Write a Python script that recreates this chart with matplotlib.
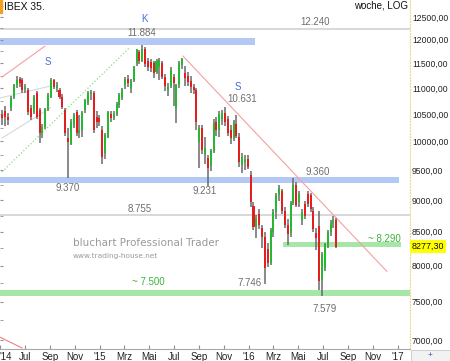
import numpy as np
import pandas as pd
import matplotlib
matplotlib.use('Agg')
import matplotlib.pyplot as plt
import matplotlib.dates as mdates
from matplotlib.ticker import FixedLocator, FuncFormatter

plt.rcParams['font.family'] = ['Liberation Sans', 'DejaVu Sans']

# IBEX 35 weekly candles, first week 05.05.2014
first_week = '2014-05-07'
opens = [10480, 10560, 10450, 10620, 10830, 11060, 11180, 11160, 10980, 10970,
         10620, 10540, 10900, 10580, 10150, 10260, 10600, 10830, 11160, 11000,
         10970, 10830, 10580, 10060, 9960, 10300, 10540, 10150, 10210, 10580,
         10710, 10880, 10900, 10450, 10420, 10200, 9800, 10080, 10500, 10420,
         10500, 10680, 10800, 11060, 11180, 11000, 11160, 11500, 11740, 11560,
         11800, 11550, 11520, 11500, 11320, 11420, 11500, 11230, 10960, 11040,
         11230, 10620, 11060, 11460, 11300, 11240, 11150, 11020, 10960, 9980,
         10250, 9780, 9700, 9560, 9830, 10350, 10200, 10400, 10520, 10400,
         10200, 10050, 10320, 10080, 9590, 9640, 9690, 9420, 8900, 8580,
         8780, 8560, 8420, 8240, 8030, 8500, 8800, 9080, 9150, 8820,
         8610, 8480, 8950, 9240, 8960, 8680, 8930, 9100, 9080, 8820,
         8480, 8590, 7790, 7960, 8300, 8500, 8640, 8680]
highs = [10580, 10660, 10520, 10850, 11080, 11250, 11220, 11200, 11080, 11000,
         10680, 10860, 10940, 10620, 10320, 10620, 10900, 11200, 11190, 11120,
         11010, 10880, 10620, 10250, 10400, 10520, 10580, 10480, 10560, 10790,
         10940, 10960, 10940, 10560, 10480, 10280, 10150, 10560, 10560, 10560,
         10740, 10900, 11000, 11220, 11260, 11180, 11450, 11800, 11790, 11884,
         11840, 11620, 11600, 11540, 11600, 11620, 11560, 11280, 11100, 11420,
         11280, 11080, 11560, 11620, 11450, 11330, 11250, 11080, 11000, 10300,
         10300, 10080, 9760, 9870, 10400, 10450, 10560, 10570, 10631, 10460,
         10300, 10380, 10480, 10150, 9800, 9760, 9750, 9480, 8960, 8760,
         8850, 8600, 8500, 8330, 8560, 8850, 9120, 9250, 9180, 8880,
         8700, 8980, 9360, 9300, 9150, 8860, 8990, 9150, 9120, 8880,
         8560, 8830, 8200, 8330, 8520, 8680, 8740, 8720]
lows = [10300, 10280, 10300, 10560, 10780, 11000, 11020, 10900, 10900, 10480,
        10380, 10500, 10400, 9970, 10050, 10220, 10560, 10800, 10980, 10920,
        10780, 10600, 10100, 9370, 9930, 10250, 10100, 10060, 10080, 10520,
        10680, 10760, 10150, 10250, 10280, 9600, 9690, 10050, 10360, 10380,
        10460, 10620, 10760, 10980, 11020, 10900, 11120, 11450, 11480, 11520,
        11420, 11350, 11330, 11200, 11280, 11160, 11180, 10950, 10850, 11000,
        10650, 10340, 11000, 11380, 11050, 11050, 10900, 10880, 10200, 9540,
        9780, 9600, 9231, 9480, 9800, 10100, 10080, 10300, 10280, 10100,
        9960, 10000, 10050, 9550, 9450, 9500, 9520, 8880, 8520, 8410,
        8540, 8250, 7746, 7980, 8010, 8420, 8700, 8980, 8780, 8560,
        8300, 8420, 8920, 8880, 8880, 8600, 8700, 8880, 8800, 8500,
        8220, 7650, 7579, 7920, 8260, 8440, 8560, 8250]
closes = [10420, 10440, 10380, 10810, 11060, 11160, 11100, 10970, 11030, 10540,
          10450, 10830, 10450, 10150, 10260, 10600, 10860, 11160, 11030, 11070,
          10830, 10640, 10150, 9980, 10350, 10480, 10150, 10210, 10520, 10770,
          10900, 10920, 10200, 10350, 10350, 9720, 10110, 10540, 10420, 10500,
          10700, 10860, 10960, 11180, 11100, 11140, 11420, 11780, 11540, 11800,
          11480, 11420, 11400, 11300, 11550, 11580, 11230, 11050, 11020, 11360,
          11110, 11060, 11500, 11590, 11200, 11120, 11020, 10960, 10360, 10250,
          9850, 9880, 9540, 9830, 10340, 10200, 10500, 10520, 10350, 10150,
          10050, 10340, 10100, 9630, 9720, 9690, 9544, 8960, 8580, 8720,
          8600, 8420, 7960, 8030, 8530, 8800, 9080, 9200, 8820, 8610,
          8460, 8950, 9240, 8920, 9100, 8800, 8740, 8930, 8850, 8540,
          8400, 7787, 8170, 8300, 8500, 8640, 8680, 8277.30]

# support / resistance zones (lower, upper)
zone_k = (11884, 12030)
zone_9360 = (9280, 9385)
zone_8290 = (8265, 8350)
zone_7500 = (7570, 7660)
line_12240 = 12240
line_8755 = 8755
last_price = 8277.30

month_ticks = ['2014-05-01', '2014-07-01', '2014-09-01', '2014-11-01', '2015-01-01',
               '2015-03-01', '2015-05-01', '2015-07-01', '2015-09-01', '2015-11-01',
               '2016-01-01', '2016-03-01', '2016-05-01', '2016-07-01', '2016-09-01',
               '2016-11-01', '2017-01-01']
month_labels = ["'14", 'Jul', 'Sep', 'Nov', "'15", 'Mrz', 'Mai', 'Jul', 'Sep', 'Nov',
                "'16", 'Mrz', 'Mai', 'Jul', 'Sep', 'Nov', "'17"]

o = np.array(opens); h = np.array(highs); l = np.array(lows); c = np.array(closes)
dates = pd.date_range(first_week, periods=len(c), freq='7D')
x = mdates.date2num(dates)

def d(s):
    return mdates.date2num(pd.Timestamp(s))

x0, x1 = d('2014-05-01'), d('2017-01-31')

fig = plt.figure(figsize=(4.5, 3.61), dpi=100)
ax = fig.add_axes([0, 12/361, 410/450, 349/361])
ax.set_yscale('log')
ax.set_xlim(x0, x1)
ax.set_ylim(6887, 12887)

# zones and lines
def zone(z, a, b, col):
    ax.fill_between([d(a), d(b)], z[0], z[1], color=col, lw=0, zorder=1)

zone(zone_k, '2014-05-01', '2016-01-17', '#b4c8f4')
zone(zone_9360, '2014-05-01', '2017-01-03', '#b4c8f4')
zone(zone_8290, '2016-03-25', '2017-01-10', '#a6e6a6')
zone(zone_7500, '2014-05-01', '2017-01-31', '#a6e6a6')
ax.hlines([line_12240, line_8755], x0, x1, color='#d2d2d2', lw=1.2, zorder=1)

# trend lines
ax.plot([d('2014-05-06'), d('2014-08-19')], [11223, 11862], color='#f4a0a0', lw=0.8, zorder=2)
ax.plot([d('2014-05-01'), d('2014-09-02')], [10808, 11043], color='#d8d8d8', lw=0.8, zorder=2)
ax.plot([d('2014-05-06'), d('2014-09-02')], [10059, 10618], color='#d8d8d8', lw=0.8, zorder=2)
ax.plot([d('2014-05-06'), d('2015-03-16')], [9466, 11840], color='#86dc86', lw=0.9, ls=':', zorder=2)
ax.plot([d('2015-07-24'), d('2016-12-05')], [11653, 7918], color='#f4a0a0', lw=0.8, zorder=2)
ax.plot([d('2014-05-01'), d('2014-06-24')], [7034, 6900], color='#f08080', lw=0.8, zorder=2)

# candles
up = c >= o
ax.vlines(x, l, h, color='#6a6a6a', lw=1.1, zorder=3)
body_lo = np.minimum(o, c)
body_h = np.maximum(np.abs(c - o), 18)
ax.bar(x, body_h, bottom=body_lo, width=5.0,
       color=np.where(up, '#26b832', '#e41e1e'), lw=0, zorder=4)

# labels
gray = '#6e6e6e'
fs = 7
ax.text(d('2015-04-21'), 12455, 'K', color='#4a6ed8', fontsize=fs, ha='center', va='center')
ax.text(d('2015-04-14'), 12146, '11.884', color=gray, fontsize=fs, ha='center', va='center')
ax.text(d('2016-06-11'), 12388, '12.240', color=gray, fontsize=fs, ha='center', va='center')
ax.text(d('2014-08-27'), 11530, 'S', color='#4a6ed8', fontsize=fs, ha='center', va='center')
ax.text(d('2015-12-05'), 11026, 'S', color='#4a6ed8', fontsize=fs, ha='center', va='center')
ax.text(d('2015-12-15'), 10790, '10.631', color=gray, fontsize=fs, ha='center', va='center')
ax.text(d('2016-06-18'), 9466, '9.360', color=gray, fontsize=fs, ha='center', va='center')
ax.text(d('2014-10-15'), 9200, '9.370', color=gray, fontsize=fs, ha='center', va='center')
ax.text(d('2015-09-15'), 9151, '9.231', color=gray, fontsize=fs, ha='center', va='center')
ax.text(d('2015-04-09'), 8860, '8.755', color=gray, fontsize=fs, ha='center', va='center')
ax.text(d('2016-01-04'), 7750, '7.746', color=gray, fontsize=fs, ha='center', va='center')
ax.text(d('2016-07-06'), 7398, '7.579', color=gray, fontsize=fs, ha='center', va='center')
ax.text(d('2016-11-30'), 8391, '~ 8.290', color='#3cb43c', fontsize=fs, ha='center', va='center')
ax.text(d('2015-04-29'), 7765, '~ 7.500', color='#3cb43c', fontsize=fs, ha='center', va='center')
ax.text(d('2014-10-27'), 8330, 'bluchart Professional Trader', color='#9a9a9a',
        fontsize=7.5, family='DejaVu Sans', ha='left', va='center')
ax.text(d('2014-10-27'), 8140, 'www.trading-house.net', color='#9a9a9a',
        fontsize=5.3, family='DejaVu Sans', ha='left', va='center')

# last price box
ax.annotate(f'{last_price:.2f}'.replace('.', ','), xy=(1.0, last_price),
            xycoords=('axes fraction', 'data'), xytext=(1.2, 0), textcoords='offset points',
            fontsize=6.4, ha='left', va='center', color='#111111',
            bbox=dict(boxstyle='square,pad=0.2', fc='#ffff00', ec='none'), annotation_clip=False)

# axes styling
for s in ['top', 'left']:
    ax.spines[s].set_visible(False)
ax.spines['bottom'].set_color('#a8a8a8')
ax.spines['right'].set_color('#f0d890')
ax.spines['right'].set_linestyle(':')

ax.yaxis.set_major_locator(FixedLocator(list(range(7000, 12501, 500))))
ax.yaxis.set_minor_locator(FixedLocator(list(range(7250, 12800, 500))))
ax.yaxis.set_major_formatter(FuncFormatter(lambda v, p: f'{v:.2f}'.replace('.', ',')))
ax.yaxis.set_minor_formatter(FuncFormatter(lambda v, p: ''))
ax.tick_params(axis='y', which='both', left=True, right=False, labelleft=False,
               labelright=True, direction='in', length=2, color='#909090',
               labelsize=6.2, pad=1.5, labelcolor='#222222')

ax.set_xticks([d(t) for t in month_ticks])
ax.set_xticklabels(month_labels)
ax.tick_params(axis='x', direction='in', length=3, color='#909090', labelsize=7,
               pad=2, labelcolor='#222222')
ax.get_xticklabels()[0].set_ha('left')

# header
fig.text(4/450, 1 - 7/361, 'IBEX 35.', fontsize=7.5, va='center', ha='left', color='#111111')
fig.patches.append(plt.Rectangle((0, 1 - 13/361), 2/450, 13/361, transform=fig.transFigure,
                                 color='#f5a020', figure=fig))
fig.text(408/450, 1 - 6/361, 'woche, LOG', fontsize=7, va='center', ha='right', color='#111111')
fig.patches.append(plt.Rectangle((411/450, 0), 39/450, 11/361, transform=fig.transFigure,
                                 fc='#f2f2f2', ec='#c8c8c8', lw=0.6, figure=fig))
fig.text(430/450, 5/361, '+', fontsize=6, va='center', ha='center', color='#3050a0')

fig.savefig('out.png', dpi=100)
